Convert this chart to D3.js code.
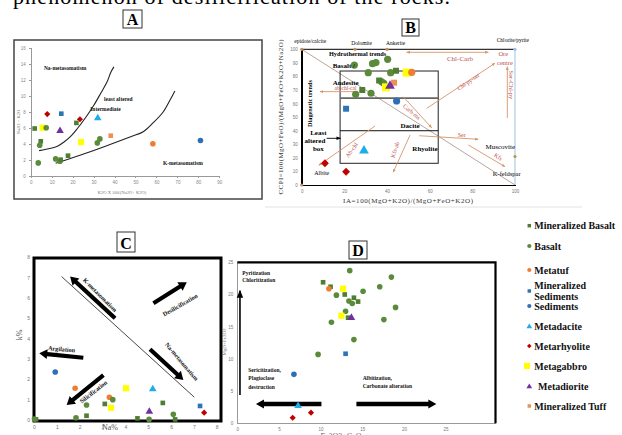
<!DOCTYPE html>
<html lang="en">
<head>
<meta charset="UTF-8">
<title>Alteration diagrams</title>
<script src="https://d3js.org/d3.v7.min.js"></script>
<style>
  body { margin: 0; background: #fff; }
  svg { display: block; font-family: "Liberation Serif", "DejaVu Serif", serif; }
  .axis text { fill: #888; font-size: 4.5px; }
  .axis line, .axis path { stroke: #999; shape-rendering: crispEdges; }
  .blk text { fill: #777; font-size: 5px; }
  .blk path { stroke: #000; stroke-width: 1.5px; }
  .blk line { stroke: #000; }
  .lbl { font-weight: bold; fill: #111; }
  .red { fill: #c0504d; font-size: 6.5px; }
  .legend text { font-size: 10px; font-weight: bold; fill: #111; }
</style>
</head>
<body>
<svg width="622" height="435"></svg>
<script>
// ---- data ----
var categoryKeys = ["mbasalt", "basalt", "metatuf", "msed", "sed", "metadacite", "metarhyolite", "metagabbro", "metadiorite", "mtuff"];
var categoryNames = ["Mineralized Basalt", "Basalt", "Metatuf", "Mineralized Sediments", "Sediments", "Metadacite", "Metarhyolite", "Metagabbro", "Metadiorite", "Mineralized Tuff"];

// A: K2O*100/(Na2O+K2O) vs Na2O+K2O
var aXTicks = [0, 10, 20, 30, 40, 50, 60, 70, 80, 90];
var aYTicks = [0, 2, 4, 6, 8, 10, 12, 14, 16];
var aPoints = [
  ["metarhyolite", 7.9, 7.7], ["msed", 14.6, 7.75], ["metarhyolite", 23.5, 7.05], ["metadacite", 32, 7.2],
  ["mbasalt", 21.8, 6.6], ["mbasalt", 1.9, 5.9], ["metagabbro", 5.7, 6.0], ["basalt", 7.4, 6.0],
  ["metadiorite", 14, 5.6], ["mbasalt", 4.8, 4.3], ["basalt", 4.3, 3.8], ["metagabbro", 24, 4.2],
  ["basalt", 33, 4.6], ["basalt", 31.8, 4.1], ["mtuff", 38.2, 5.0], ["metatuf", 58.3, 4.0],
  ["sed", 81, 4.4], ["basalt", 3.6, 1.6], ["basalt", 11.9, 2.1], ["basalt", 14, 1.8],
  ["mbasalt", 17.8, 2.5], ["mbasalt", 14.3, 2.0]
];
var aCurveNa = [[4.0, 3.13], [9.5, 3.43], [13.0, 3.71], [15.9, 4.21], [18.8, 4.84], [22.1, 5.84], [26.4, 7.34], [30.2, 8.84], [33.5, 10.34], [36.4, 11.7], [38.3, 12.96], [39.7, 13.6]];
var aCurveK = [[11.9, 1.55], [23.9, 2.59], [35.0, 3.63], [47.7, 4.88], [53.7, 5.5], [58.5, 6.63], [63.3, 8.0], [66.5, 9.46], [68.8, 10.6]];

// B: alteration box plot
var bXTicks = [0, 20, 40, 60, 80, 100];
var bYTicks = [0, 10, 20, 30, 40, 50, 60, 70, 80, 90, 100];
var bPoints = [
  ["basalt", 24.7, 88.4], ["basalt", 33.2, 89.4], ["basalt", 34.8, 90.2], ["basalt", 40.3, 92.6], ["basalt", 31.2, 82.8],
  ["basalt", 41.7, 82.8], ["basalt", 37.5, 76.1], ["basalt", 38.5, 74.9], ["basalt", 32.5, 67.6], ["basalt", 25.3, 66.8],
  ["mbasalt", 28.4, 70], ["mbasalt", 44.2, 84.2], ["mbasalt", 36.3, 77],
  ["metagabbro", 49.2, 82.8], ["metagabbro", 39.5, 72], ["metatuf", 51.6, 83], ["mtuff", 43.3, 75.4],
  ["metadiorite", 41.4, 73], ["sed", 44.5, 61.9], ["msed", 20.8, 56.2], ["metadacite", 29.2, 25.3],
  ["metarhyolite", 10.9, 16], ["metarhyolite", 20.8, 9.8]
];
var bEndMembers = [[0, 100], [25, 100], [40, 100], [0, 0], [100, 100], [100, 21]];
// trend arrows [x1, y1, x2, y2, doubleHeaded]
var bArrows = [
  [49.2, 97.8, 87.5, 97.8, 1], [58.6, 56.5, 90.6, 89.7, 0], [96.4, 49.4, 96.4, 87.2, 0],
  [26.5, 68.8, 8.6, 68.8, 0], [47.6, 65.1, 60.9, 42.2, 0], [34.4, 43.5, 8.0, 14.5, 0],
  [50.8, 36.8, 42.9, 9.4, 0], [55.1, 36.3, 82.8, 33.7, 0], [78.1, 29.5, 95.3, 13.5, 0]
];

// C: Na% vs K%
var cTicks = [0, 1, 2, 3, 4, 5, 6, 7, 8];
var cPoints = [
  ["sed", 0.93, 2.36], ["metatuf", 1.8, 1.56], ["metagabbro", 4.03, 1.56], ["metadacite", 5.2, 1.52],
  ["metatuf", 3.3, 1.12], ["basalt", 3.45, 1.0], ["metagabbro", 3.37, 0.6], ["basalt", 2.3, 0.74],
  ["mbasalt", 3.1, 0.79], ["mbasalt", 5.64, 0.84], ["msed", 7.27, 0.69], ["metarhyolite", 7.45, 0.36],
  ["metadiorite", 5.05, 0.41], ["basalt", 6.1, 0.28], ["mbasalt", 2.3, 0.21], ["basalt", 1.84, 0.11],
  ["mbasalt", 4.53, 0.08], ["basalt", 5.04, 0.03], ["mbasalt", 6.18, 0.03], ["mbasalt", 0.09, 0.03], ["basalt", 0.02, 0.05]
];
var cLine = [[1.21, 7.05], [7.02, 1.12]];
var cArrows = [[3.55, 5.0, 1.58, 7.05], [5.23, 5.74, 6.69, 6.77], [2.16, 3.06, 0.23, 3.28], [5.08, 3.48, 6.54, 1.97], [3.04, 2.21, 1.43, 0.74]];
var cArrowNames = ["K-metasomatism", "Desilicification", "Argilation", "Na-metasomatism", "Silicification"];
var cNamePos = [[2.89, 6.15, 45], [6.4, 5.66, -30], [1.21, 3.49, 5], [6.47, 2.87, 50], [2.6, 1.39, -38]];

// D: Fe2O3+CaO vs MgO+Fe2O3
var dXTicks = [0, 5, 10, 15, 20, 25];
var dYTicks = [0, 5, 10, 15, 20, 25];
var dPoints = [
  ["basalt", 13.5, 23.7], ["basalt", 18.5, 22.7], ["basalt", 17.1, 21.2], ["mbasalt", 10.3, 21.9],
  ["mbasalt", 11.2, 21.2], ["metatuf", 11.0, 20.9], ["metagabbro", 12.7, 20.9], ["basalt", 11.9, 19.9],
  ["mbasalt", 12.9, 20.0], ["basalt", 15.1, 20.5], ["mbasalt", 14.0, 19.5], ["basalt", 13.4, 19.0],
  ["basalt", 13.8, 18.6], ["mbasalt", 14.5, 18.9], ["basalt", 19.0, 18.0], ["basalt", 13.0, 17.4],
  ["metagabbro", 12.5, 16.7], ["mbasalt", 13.3, 16.4], ["metadiorite", 13.7, 16.4], ["basalt", 17.6, 16.1],
  ["basalt", 11.3, 15.7], ["basalt", 14.0, 13.0], ["basalt", 9.7, 10.7], ["msed", 13.0, 10.8],
  ["sed", 6.8, 7.6], ["metadacite", 7.3, 2.7], ["metarhyolite", 8.85, 1.65], ["metarhyolite", 6.65, 0.87]
];

// ---- styles ----
var colors = {mbasalt: "#4f7d31", basalt: "#5b8b3a", metatuf: "#ed7d31", msed: "#2e75b6", sed: "#2f6fb5",
  metadacite: "#1eaee6", metarhyolite: "#c00000", metagabbro: "#ffff00", metadiorite: "#7030a0", mtuff: "#ef8f55"};
var shapes = {mbasalt: "square", basalt: "circle", metatuf: "circle", msed: "square", sed: "circle",
  metadacite: "triangle", metarhyolite: "diamond", metagabbro: "square", metadiorite: "triangle", mtuff: "square"};
var grow = {metagabbro: 1.2, mbasalt: 0.9, msed: 0.9, mtuff: 0.9};

var svg = d3.select("svg");

function marker(g, key, x, y, s) {
  var shp = shapes[key], sym, area, rot = 0;
  s = s * (grow[key] || 1);
  if (shp == "circle") { sym = d3.symbolCircle; area = Math.PI * s * s / 4; }
  else if (shp == "square") { sym = d3.symbolSquare; area = s * s * 0.85; }
  else if (shp == "triangle") { sym = d3.symbolTriangle; area = s * s * 0.8; }
  else { sym = d3.symbolSquare; area = s * s * 0.6; rot = 45; }
  g.append("path")
    .attr("d", d3.symbol().type(sym).size(area)())
    .attr("transform", "translate(" + x + "," + y + ") rotate(" + rot + ")")
    .attr("fill", colors[key]);
}

function blockArrow(g, x1, y1, x2, y2, w, hl, hw) {
  var dx = x2 - x1, dy = y2 - y1, len = Math.sqrt(dx * dx + dy * dy);
  var ux = dx / len, uy = dy / len, nx = -uy, ny = ux;
  var sx = x2 - ux * hl, sy = y2 - uy * hl;
  var pts = [
    [x1 + nx * w / 2, y1 + ny * w / 2], [sx + nx * w / 2, sy + ny * w / 2], [sx + nx * hw / 2, sy + ny * hw / 2],
    [x2, y2], [sx - nx * hw / 2, sy - ny * hw / 2], [sx - nx * w / 2, sy - ny * w / 2], [x1 - nx * w / 2, y1 - ny * w / 2]
  ];
  g.append("polygon").attr("points", pts.map(function(p) { return p.join(","); }).join(" ")).attr("fill", "#000");
}

function labelBox(x, y, w, h, t) {
  svg.append("rect").attr("x", x).attr("y", y).attr("width", w).attr("height", h)
    .attr("fill", "#fff").attr("stroke", "#333").attr("stroke-width", 1);
  svg.append("text").attr("x", x + w / 2).attr("y", y + h - 3.5).attr("text-anchor", "middle")
    .style("font-size", "16px").style("font-weight", "bold").text(t);
}

var defs = svg.append("defs");
defs.append("marker").attr("id", "hb").attr("viewBox", "0 0 10 10").attr("refX", 9).attr("refY", 5)
  .attr("markerWidth", 4).attr("markerHeight", 4).attr("orient", "auto-start-reverse")
  .append("path").attr("d", "M0,1 L10,5 L0,9 z").attr("fill", "#d4956a");
defs.append("marker").attr("id", "hk").attr("viewBox", "0 0 10 10").attr("refX", 9).attr("refY", 5)
  .attr("markerWidth", 5).attr("markerHeight", 5).attr("orient", "auto")
  .append("path").attr("d", "M0,1 L10,5 L0,9 z").attr("fill", "#000");

// caption line cut at the top
svg.append("text").attr("x", 13).attr("y", 4).attr("textLength", 437)
  .style("font-size", "22px").text("phenomenon of desilicification of the rocks.");

// ================= A =================
svg.append("rect").attr("x", 14).attr("y", 40).attr("width", 248).attr("height", 159)
  .attr("fill", "none").attr("stroke", "#444").attr("stroke-width", 1.5);
labelBox(123, 10, 19, 18, "A");

var ax = d3.scaleLinear().domain([0, 90]).range([30.7, 219.3]);
var ay = d3.scaleLinear().domain([0, 16]).range([175.7, 47.7]);
var gA = svg.append("g");
gA.append("g").attr("class", "axis").attr("transform", "translate(0,175.7)")
  .call(d3.axisBottom(ax).tickValues(aXTicks).tickSize(2).tickPadding(3));
gA.append("g").attr("class", "axis").attr("transform", "translate(30.7,0)")
  .call(d3.axisLeft(ay).tickValues(aYTicks).tickSize(2).tickPadding(3));
gA.append("text").attr("x", 122).attr("y", 194).attr("text-anchor", "middle")
  .style("font-size", "4.5px").style("fill", "#777").text("K2O X 100/(Na2O+ K2O)");
gA.append("text").attr("transform", "translate(20,122) rotate(-90)").attr("text-anchor", "middle")
  .style("font-size", "4.5px").style("fill", "#777").text("Na2O + K2O");

var aLine = d3.line().x(function(d) { return ax(d[0]); }).y(function(d) { return ay(d[1]); }).curve(d3.curveCatmullRom);
[aCurveNa, aCurveK].forEach(function(c) {
  gA.append("path").attr("d", aLine(c)).attr("fill", "none").attr("stroke", "#222").attr("stroke-width", 1.1);
});
aPoints.forEach(function(d) { marker(gA, d[0], ax(d[1]), ay(d[2]), 5.6); });

[["Na-metasomatism", 6.3, 13.5], ["least altered", 35, 9.6], ["Intermediate", 28.4, 8.3], ["K-metasomatism", 63.1, 1.6]]
  .forEach(function(t) {
    gA.append("text").attr("class", "lbl").attr("x", ax(t[1])).attr("y", ay(t[2]) + 2)
      .style("font-size", "5.5px").text(t[0]);
  });

// ================= B =================
labelBox(402, 19, 17, 17, "B");
var bx = d3.scaleLinear().domain([0, 100]).range([301.7, 515]);
var by = d3.scaleLinear().domain([0, 100]).range([185, 49.3]);
var gB = svg.append("g");

gB.append("line").attr("x1", bx(0)).attr("y1", by(100)).attr("x2", bx(100)).attr("y2", by(100))
  .attr("stroke", "#333").attr("stroke-width", 1.2);
gB.append("line").attr("x1", bx(100)).attr("y1", by(0)).attr("x2", bx(100)).attr("y2", by(100))
  .attr("stroke", "#9dc3e6").attr("stroke-width", 1);
gB.append("line").attr("x1", bx(0)).attr("y1", by(100)).attr("x2", bx(100)).attr("y2", by(0))
  .attr("stroke", "#b9a69c").attr("stroke-width", 1);

gB.append("rect").attr("x", bx(18)).attr("y", by(84)).attr("width", bx(64) - bx(18)).attr("height", by(16) - by(84))
  .attr("fill", "none").attr("stroke", "#222").attr("stroke-width", 1);
gB.append("line").attr("x1", bx(18)).attr("x2", bx(64)).attr("y1", by(64)).attr("y2", by(64))
  .attr("stroke", "#666").attr("stroke-width", 1.8);
gB.append("line").attr("x1", bx(18)).attr("x2", bx(64)).attr("y1", by(40)).attr("y2", by(40))
  .attr("stroke", "#111").attr("stroke-width", 1);

gB.append("g").attr("class", "axis blk").attr("transform", "translate(0,185)")
  .call(d3.axisBottom(bx).tickValues(bXTicks).tickSize(0).tickPadding(5));
gB.append("g").attr("class", "axis blk").attr("transform", "translate(301.7,0)")
  .call(d3.axisLeft(by).tickValues(bYTicks).tickSize(0).tickPadding(4));
gB.selectAll(".blk text").style("font-size", "4.5px");

bArrows.forEach(function(a) {
  var l = gB.append("line").attr("x1", bx(a[0])).attr("y1", by(a[1])).attr("x2", bx(a[2])).attr("y2", by(a[3]))
    .attr("stroke", "#d4956a").attr("stroke-width", 0.9).attr("marker-end", "url(#hb)");
  if (a[4]) l.attr("marker-start", "url(#hb)");
});
gB.append("line").attr("x1", bx(11.7)).attr("x2", bx(18.2)).attr("y1", by(34.4)).attr("y2", by(34.4))
  .attr("stroke", "#000").attr("stroke-width", 0.9).attr("marker-end", "url(#hk)");

bEndMembers.forEach(function(p, i) {
  gB.append("circle").attr("cx", bx(p[0])).attr("cy", by(p[1])).attr("r", 1.6)
    .attr("fill", i == 4 ? "#9dc3e6" : (i == 5 ? "#a5a53a" : "#c98a55"));
});

bPoints.forEach(function(d) { marker(gB, d[0], bx(d[1]), by(d[2]), 7.2); });

function bText(t, x, y, size, bold, anchor, rot, cls) {
  var el = gB.append("text").attr("transform", "translate(" + bx(x) + "," + by(y) + ") rotate(" + (rot || 0) + ")")
    .attr("dy", "0.35em").attr("text-anchor", anchor || "middle").style("font-size", size + "px").text(t);
  if (bold) el.style("font-weight", "bold");
  if (cls) el.attr("class", cls);
  return el;
}
bText("epidote/calcite", 4, 106.3, 5.5);
bText("Dolomite", 28.1, 104.9, 5.5);
bText("Ankerite", 44, 104.9, 5.5);
bText("Chlorite/pyrite", 99, 107, 5.5);
bText("Hydrothermal trends", 26.2, 97, 6.3, true);
bText("Diagenetic trends", 3.6, 60, 6.3, true, "middle", -90);
bText("Basalt /", 14.5, 88.2, 7, true, "start");
bText("Andesite", 14.5, 75.2, 7, true, "start");
bText("Dacite", 50.8, 43.7, 7, true);
bText("Rhyolite", 57.8, 27, 7, true);
bText("Least", 7.8, 38.5, 7, true);
bText("altered", 6.2, 32.4, 7, true);
bText("box", 7.8, 27, 7, true);
bText("Albite", 9.4, 8.6, 6);
bText("Muscovite", 93.1, 28.2, 7);
bText("K-feldspar", 96.1, 8.6, 6.5);
bText("Chl-Carb", 74.2, 93.1, 7, false, "middle", 0, "red");
bText("Ore", 94.5, 97, 6.5, false, "middle", 0, "red");
bText("centre", 95.3, 90.4, 6.5, false, "middle", 0, "red");
bText("Chl-py-ser", 78.1, 76.1, 6, false, "middle", -35, "red");
bText("Ser-Chl-py", 98.1, 73.7, 6.5, false, "middle", 90, "red");
bText("Carb-ms", 51.6, 54, 6, false, "middle", 40, "red");
bText("ab-chl-cal", 20.5, 71.3, 5.5, false, "middle", 0, "red");
bText("Ab-chl", 23.4, 25.8, 6, false, "middle", -55, "red");
bText("Kfs-ab", 43.7, 26, 6, false, "middle", -72, "red");
bText("Ser", 75, 37.1, 6, false, "middle", 0, "red");
bText("Kfs", 92.2, 20.9, 6, false, "middle", 35, "red");

gB.append("text").attr("x", 408).attr("y", 203).attr("text-anchor", "middle").attr("textLength", 130)
  .style("font-size", "7px").style("fill", "#333").text("IA=100(MgO+K2O)/(MgO+FeO+K2O)");
gB.append("text").attr("transform", "translate(283,117) rotate(-90)").attr("text-anchor", "middle").attr("textLength", 155)
  .style("font-size", "7px").style("fill", "#333").text("CCPI=100(MgO+FeO)/(MgO+FeO+K2O+Na2O)");
svg.append("line").attr("x1", 265).attr("x2", 582).attr("y1", 207).attr("y2", 207).attr("stroke", "#e2e2e2");

// ================= C =================
labelBox(117, 232, 18, 20, "C");
var cx = d3.scaleLinear().domain([0, 8]).range([34, 216.7]);
var cy = d3.scaleLinear().domain([0, 8]).range([420, 257.3]);
var gC = svg.append("g");
gC.append("g").attr("class", "axis").attr("transform", "translate(0,420)")
  .call(d3.axisBottom(cx).tickValues(cTicks).tickSize(0).tickPadding(5));
gC.append("g").attr("class", "axis").attr("transform", "translate(34,0)")
  .call(d3.axisLeft(cy).tickValues(cTicks).tickSize(0).tickPadding(4));
gC.selectAll(".axis text").style("font-size", "5px").style("fill", "#777");
gC.append("rect").attr("x", 34).attr("y", 258).attr("width", 187).attr("height", 163)
  .attr("fill", "none").attr("stroke", "#000").attr("stroke-width", 3);
gC.append("text").attr("x", 110).attr("y", 430).attr("text-anchor", "middle")
  .style("font-size", "8px").style("fill", "#555").text("Na%");
gC.append("text").attr("transform", "translate(22,335) rotate(-90)").attr("text-anchor", "middle")
  .style("font-size", "8px").style("fill", "#555").text("k%");

gC.append("line").attr("x1", cx(cLine[0][0])).attr("y1", cy(cLine[0][1])).attr("x2", cx(cLine[1][0])).attr("y2", cy(cLine[1][1]))
  .attr("stroke", "#333").attr("stroke-width", 0.9);
cArrows.forEach(function(a) { blockArrow(gC, cx(a[0]), cy(a[1]), cx(a[2]), cy(a[3]), 4.2, 8, 10); });
cArrowNames.forEach(function(n, i) {
  var p = cNamePos[i];
  gC.append("text").attr("class", "lbl").attr("transform", "translate(" + cx(p[0]) + "," + cy(p[1]) + ") rotate(" + p[2] + ")")
    .attr("text-anchor", "middle").attr("dy", "0.35em").style("font-size", "6.2px").text(n);
});
cPoints.forEach(function(d) { marker(gC, d[0], cx(d[1]), cy(d[2]), 5.6); });

// ================= D =================
labelBox(349, 241, 18, 18, "D");
var dx = d3.scaleLinear().domain([0, 31]).range([237.3, 495.5]);
var dy = d3.scaleLinear().domain([0, 25]).range([423.3, 262.3]);
var gD = svg.append("g");
gD.append("g").attr("class", "axis").attr("transform", "translate(0,423.3)")
  .call(d3.axisBottom(dx).tickValues(dXTicks).tickSize(0).tickPadding(5));
gD.append("g").attr("class", "axis").attr("transform", "translate(237.3,0)")
  .call(d3.axisLeft(dy).tickValues(dYTicks).tickSize(0).tickPadding(4));
gD.selectAll(".axis text").style("font-size", "4.5px").style("fill", "#777");
gD.append("path").attr("d", "M" + dx(0) + "," + dy(25) + "H" + dx(31) + "V" + dy(0))
  .attr("fill", "none").attr("stroke", "#000").attr("stroke-width", 2.2);
gD.append("text").attr("transform", "translate(226,342) rotate(-90)").attr("text-anchor", "middle")
  .style("font-size", "5px").style("fill", "#777").text("MgO+Fe2O3");
gD.append("text").attr("x", 341).attr("y", 439).attr("text-anchor", "middle")
  .style("font-size", "8px").style("fill", "#666").text("Fe2O3+CaO");

gD.append("line").attr("x1", dx(0.32)).attr("x2", dx(0.32)).attr("y1", dy(4.4)).attr("y2", dy(20.6))
  .attr("stroke", "#000").attr("stroke-width", 1.6).attr("marker-end", "url(#hk)");
blockArrow(gD, dx(10.1), dy(3.0), dx(2.24), dy(3.0), 4.5, 8, 9);
blockArrow(gD, dx(14.3), dy(3.0), dx(23.9), dy(3.0), 4.5, 8, 9);

[["Pyritization", 0.6, 23.4], ["Chloritization", 0.6, 22.3], ["Sericitization,", 1.32, 8.28], ["Plagioclase", 1.32, 6.99],
 ["destruction", 1.32, 5.68], ["Albitization,", 15.05, 7.08], ["Carbonate alteration", 15.05, 5.79]].forEach(function(t) {
  gD.append("text").attr("class", "lbl").attr("x", dx(t[1])).attr("y", dy(t[2])).attr("dy", "0.35em")
    .style("font-size", "5.5px").text(t[0]);
});
dPoints.forEach(function(d) { marker(gD, d[0], dx(d[1]), dy(d[2]), 5.6); });

// ================= legend =================
var legendY = [225.7, 246, 270, 291, 306, 326.7, 346, 366, 386.7, 406];
var gL = svg.append("g").attr("class", "legend");
categoryKeys.forEach(function(k, i) {
  marker(gL, k, k == "metagabbro" ? 527 : 529.3, legendY[i], k == "metagabbro" ? 5.5 : 4.2);
  var tx = k == "metadiorite" ? 538 : 534.3;
  if (k == "msed") {
    var parts = categoryNames[i].split(" ");
    gL.append("text").attr("x", tx).attr("y", legendY[i] - 6).attr("dy", "0.35em").text(parts[0]);
    gL.append("text").attr("x", tx).attr("y", legendY[i] + 5).attr("dy", "0.35em").text(parts[1]);
  } else {
    gL.append("text").attr("x", tx).attr("y", legendY[i]).attr("dy", "0.35em").text(categoryNames[i]);
  }
});
</script>
</body>
</html>
